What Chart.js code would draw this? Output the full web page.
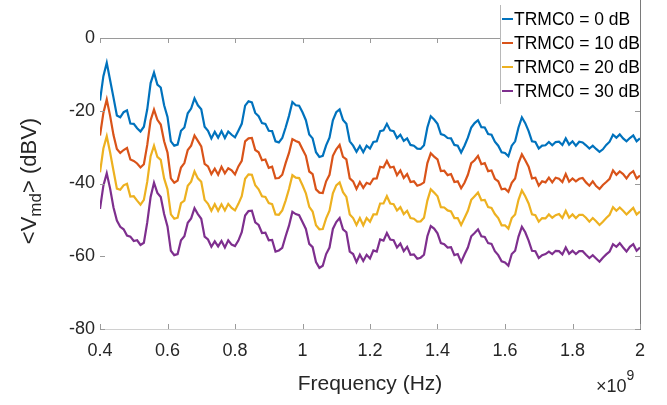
<!DOCTYPE html>
<html>
<head>
<meta charset="utf-8">
<script src="https://cdn.jsdelivr.net/npm/chart.js@4/dist/chart.umd.min.js"></script>
<style>
  html, body { margin: 0; padding: 0; background: #ffffff; }
  #wrap { width: 667px; height: 405px; position: relative; }
</style>
</head>
<body>
<div id="wrap"><canvas id="c" width="667" height="405"></canvas></div>
<script>
// Frequency (x 10^9 Hz)
const freq = [
0.40,0.41,0.42,0.43,0.44,0.45,0.46,0.47,0.48,0.49,
0.50,0.51,0.52,0.53,0.54,0.55,0.56,0.57,0.58,0.59,
0.60,0.61,0.62,0.63,0.64,0.65,0.66,0.67,0.68,0.69,
0.70,0.71,0.72,0.73,0.74,0.75,0.76,0.77,0.78,0.79,
0.80,0.81,0.82,0.83,0.84,0.85,0.86,0.87,0.88,0.89,
0.90,0.91,0.92,0.93,0.94,0.95,0.96,0.97,0.98,0.99,
1.00,1.01,1.02,1.03,1.04,1.05,1.06,1.07,1.08,1.09,
1.10,1.11,1.12,1.13,1.14,1.15,1.16,1.17,1.18,1.19,
1.20,1.21,1.22,1.23,1.24,1.25,1.26,1.27,1.28,1.29,
1.30,1.31,1.32,1.33,1.34,1.35,1.36,1.37,1.38,1.39,
1.40,1.41,1.42,1.43,1.44,1.45,1.46,1.47,1.48,1.49,
1.50,1.51,1.52,1.53,1.54,1.55,1.56,1.57,1.58,1.59,
1.60,1.61,1.62,1.63,1.64,1.65,1.66,1.67,1.68,1.69,
1.70,1.71,1.72,1.73,1.74,1.75,1.76,1.77,1.78,1.79,
1.80,1.81,1.82,1.83,1.84,1.85,1.86,1.87,1.88,1.89,
1.90,1.91,1.92,1.93,1.94,1.95,1.96,1.97,1.98,1.99,
2.00];

const seriesNames = ['TRMC0 = 0 dB', 'TRMC0 = 10 dB', 'TRMC0 = 20 dB', 'TRMC0 = 30 dB'];

const trmc0_0dB = [
-17.2,-10.5,-6.8,-11.6,-16.4,-21.3,-21.8,-20.4,-19.9,-23.5,
-23.6,-24.8,-25.7,-24.4,-19.6,-12.4,-9.5,-12.8,-13.6,-18.5,
-21.7,-28.4,-29.6,-29.3,-25.5,-24.6,-20.7,-19.4,-16.6,-18.5,
-19.6,-24.4,-25.5,-27.6,-25.8,-27.4,-25.6,-27.5,-25.7,-26.6,
-27.3,-25.5,-23.6,-18.6,-17.4,-17.7,-20.6,-21.5,-23.4,-23.6,
-25.5,-25.6,-28.4,-28.7,-27.5,-24.6,-21.4,-17.6,-18.5,-18.6,
-20.4,-22.6,-26.5,-27.6,-31.4,-32.7,-32.4,-29.5,-27.4,-22.6,
-20.4,-19.6,-22.5,-23.6,-28.4,-29.6,-31.3,-29.7,-31.4,-29.6,
-30.4,-28.6,-28.4,-25.6,-25.4,-23.6,-25.4,-25.6,-27.5,-26.6,
-28.3,-27.6,-29.4,-29.6,-30.4,-30.5,-29.5,-24.6,-21.5,-22.4,
-23.6,-26.4,-26.7,-27.5,-27.6,-29.4,-29.6,-31.5,-29.6,-27.4,
-24.6,-23.4,-22.6,-24.5,-24.6,-26.4,-26.6,-28.5,-29.6,-31.4,
-31.6,-32.5,-29.6,-28.4,-24.6,-21.8,-23.4,-25.6,-28.4,-28.6,
-30.4,-29.6,-29.5,-28.6,-29.5,-28.6,-28.5,-29.4,-27.6,-29.3,
-28.4,-29.6,-28.5,-28.7,-29.5,-30.4,-29.6,-30.5,-31.3,-30.6,
-29.4,-28.5,-26.6,-27.4,-26.5,-27.6,-28.4,-27.5,-26.8,-28.4,
-27.6];

const trmc0_10dB = [
-26.8,-20.6,-16.9,-21.4,-26.7,-30.5,-31.6,-30.8,-30.2,-33.4,
-33.8,-34.5,-35.6,-34.7,-29.4,-22.6,-19.7,-22.5,-23.8,-28.4,
-31.5,-38.6,-39.8,-39.2,-35.6,-34.4,-30.8,-29.6,-26.8,-28.3,
-29.8,-34.6,-35.3,-37.4,-35.9,-37.6,-35.4,-37.2,-35.8,-36.4,
-37.5,-35.3,-33.8,-28.4,-27.6,-27.5,-30.8,-31.4,-33.6,-33.4,
-35.7,-35.4,-38.6,-38.5,-37.6,-34.4,-31.6,-27.8,-28.3,-28.7,
-30.6,-32.4,-36.7,-37.4,-41.6,-42.5,-42.6,-39.4,-37.6,-32.4,
-30.6,-29.4,-32.7,-33.4,-38.6,-39.4,-41.5,-39.6,-41.2,-39.8,
-40.2,-38.7,-38.6,-35.4,-35.6,-33.8,-35.6,-35.4,-37.7,-36.4,
-38.5,-37.4,-39.6,-39.4,-40.6,-40.3,-39.7,-34.4,-31.7,-32.6,
-33.4,-36.6,-36.5,-37.7,-37.4,-39.6,-39.4,-41.3,-39.8,-37.6,
-34.4,-33.6,-32.4,-34.7,-34.4,-36.6,-36.4,-38.7,-39.4,-41.6,
-41.4,-42.3,-39.8,-38.6,-34.4,-32.0,-33.6,-35.4,-38.6,-38.4,
-40.6,-39.4,-39.7,-38.4,-39.7,-38.4,-38.7,-39.6,-37.4,-39.5,
-38.6,-39.4,-38.7,-38.5,-39.7,-40.6,-39.4,-40.7,-41.5,-40.4,
-39.6,-38.7,-36.4,-37.6,-36.7,-37.4,-38.6,-37.3,-36.6,-38.6,
-37.8];

const trmc0_20dB = [
-36.9,-30.4,-27.0,-31.5,-36.5,-41.4,-41.7,-40.5,-40.1,-43.6,
-43.5,-44.7,-45.8,-44.5,-39.5,-32.5,-29.6,-32.7,-33.5,-38.6,
-41.6,-48.5,-49.7,-49.4,-45.4,-44.7,-40.6,-39.5,-36.7,-38.6,
-39.5,-44.5,-45.6,-47.5,-45.7,-47.5,-45.7,-47.4,-45.6,-46.7,
-47.4,-45.6,-43.5,-38.7,-37.5,-37.6,-40.5,-41.6,-43.5,-43.7,
-45.4,-45.7,-48.5,-48.6,-47.4,-44.7,-41.5,-37.7,-38.4,-38.5,
-40.5,-42.7,-46.4,-47.7,-51.5,-52.6,-52.5,-49.6,-47.5,-42.7,
-40.5,-39.7,-42.4,-43.7,-48.5,-49.5,-51.4,-49.5,-51.5,-49.5,
-50.5,-48.5,-48.5,-45.5,-45.5,-43.5,-45.5,-45.7,-47.4,-46.5,
-48.4,-47.5,-49.5,-49.7,-50.5,-50.4,-49.4,-44.7,-41.6,-42.5,
-43.5,-46.5,-46.6,-47.4,-47.7,-49.5,-49.5,-51.4,-49.5,-47.5,
-44.5,-43.5,-42.5,-44.6,-44.5,-46.5,-46.7,-48.4,-49.5,-51.5,
-51.5,-52.4,-49.5,-48.5,-44.5,-41.9,-43.5,-45.5,-48.5,-48.7,
-50.5,-49.5,-49.6,-48.5,-49.4,-48.7,-48.4,-49.5,-47.5,-49.4,
-48.5,-49.5,-48.6,-48.6,-49.4,-50.5,-49.5,-50.4,-51.4,-50.5,
-49.5,-48.6,-46.5,-47.5,-46.6,-47.5,-48.5,-47.6,-46.7,-48.5,
-47.7];

const trmc0_30dB = [
-47.0,-40.6,-37.2,-41.4,-46.6,-50.2,-51.9,-52.6,-54.3,-54.6,
-55.8,-55.6,-56.9,-56.3,-50.7,-43.7,-39.8,-42.6,-43.7,-48.4,
-51.8,-58.5,-59.7,-59.4,-55.6,-54.5,-50.8,-49.6,-46.8,-48.4,
-49.7,-54.6,-55.4,-57.4,-55.9,-57.3,-55.8,-57.6,-55.6,-56.8,
-57.2,-55.7,-53.4,-48.8,-47.6,-47.5,-50.7,-51.4,-53.6,-53.5,
-55.6,-55.5,-58.7,-58.4,-57.7,-54.5,-51.6,-47.8,-48.4,-48.7,
-50.6,-52.5,-56.6,-57.5,-61.6,-63.2,-62.6,-59.4,-57.6,-52.5,
-50.6,-49.5,-52.6,-53.4,-58.7,-59.4,-61.6,-59.6,-61.3,-59.6,
-60.6,-58.4,-58.7,-55.4,-55.7,-53.6,-55.4,-55.6,-57.6,-56.5,
-58.6,-57.4,-59.6,-59.5,-60.7,-60.4,-59.6,-54.5,-51.7,-52.4,
-53.7,-56.4,-56.7,-57.6,-57.5,-59.7,-59.4,-61.6,-59.5,-57.6,
-54.5,-53.6,-52.6,-54.5,-54.7,-56.4,-56.6,-58.6,-59.7,-61.4,
-61.7,-62.6,-59.4,-58.5,-54.6,-51.9,-53.4,-55.7,-58.5,-58.6,
-60.5,-59.7,-59.4,-58.7,-59.4,-58.5,-58.6,-59.5,-57.6,-59.3,
-58.5,-59.4,-58.6,-58.6,-59.6,-60.5,-59.7,-60.6,-61.5,-60.4,
-59.5,-58.7,-56.7,-57.4,-56.4,-57.6,-58.7,-57.4,-56.7,-58.5,
-57.6];

const xTicks = [0.4, 0.6, 0.8, 1, 1.2, 1.4, 1.6, 1.8, 2];
const yTicks = [-80, -60, -40, -20, 0];
const colors = ['#0072BD', '#D95319', '#EDB120', '#7E2F8E'];

const allSeries = [trmc0_0dB, trmc0_10dB, trmc0_20dB, trmc0_30dB];
const FONT = "'Liberation Sans', Arial, Helvetica, sans-serif";

const datasets = allSeries.map((vals, i) => ({
  label: seriesNames[i],
  data: vals.map((v, k) => ({ x: freq[k], y: v })),
  borderColor: colors[i],
  borderWidth: 2.2,
  pointRadius: 0,
  tension: 0,
  fill: false
}));

const decorPlugin = {
  id: 'decor',
  afterDatasetsDraw(chart) {
    const ctx = chart.ctx;
    const a = chart.chartArea;
    const xs = chart.scales.x, ys = chart.scales.y;
    ctx.save();
    // box lines
    ctx.lineWidth = 1;
    ctx.strokeStyle = '#9a9a9a';
    ctx.beginPath(); ctx.moveTo(a.left, a.top + 0.5); ctx.lineTo(a.right, a.top + 0.5); ctx.stroke();
    ctx.strokeStyle = '#d0d0d0';
    ctx.beginPath(); ctx.moveTo(a.left, a.bottom + 0.5); ctx.lineTo(a.right, a.bottom + 0.5); ctx.stroke();
    ctx.strokeStyle = '#7a7a7a';
    ctx.beginPath(); ctx.moveTo(a.right + 0.5, 0); ctx.lineTo(a.right + 0.5, a.bottom + 1); ctx.stroke();
    // inward ticks
    ctx.strokeStyle = '#9a9a9a';
    xTicks.forEach(t => {
      const px = Math.round(xs.getPixelForValue(t)) + 0.5;
      ctx.beginPath(); ctx.moveTo(px, a.bottom); ctx.lineTo(px, a.bottom - 5); ctx.stroke();
      ctx.beginPath(); ctx.moveTo(px, a.top); ctx.lineTo(px, a.top + 5); ctx.stroke();
    });
    yTicks.forEach(t => {
      const py = Math.round(ys.getPixelForValue(t)) + 0.5;
      ctx.beginPath(); ctx.moveTo(a.left, py); ctx.lineTo(a.left + 5, py); ctx.stroke();
      ctx.beginPath(); ctx.moveTo(a.right, py); ctx.lineTo(a.right - 5, py); ctx.stroke();
    });

    // legend
    const lx = 500, ly = 5, lw = 140, lh = 99;
    ctx.fillStyle = '#ffffff';
    ctx.fillRect(lx, ly, lw, lh);
    ctx.strokeStyle = '#b8b8b8';
    ctx.beginPath(); ctx.moveTo(lx + 0.5, ly); ctx.lineTo(lx + 0.5, ly + lh); ctx.stroke();
    ctx.strokeStyle = '#7a7a7a';
    ctx.beginPath(); ctx.moveTo(a.right + 0.5, 0); ctx.lineTo(a.right + 0.5, ly + lh); ctx.stroke();
    ctx.font = '17.5px ' + FONT;
    ctx.textBaseline = 'middle';
    ctx.textAlign = 'left';
    chart.data.datasets.forEach((ds, i) => {
      const cy = 19 + i * 24;
      ctx.strokeStyle = ds.borderColor;
      ctx.lineWidth = 2;
      ctx.beginPath(); ctx.moveTo(lx + 2, cy); ctx.lineTo(lx + 13, cy); ctx.stroke();
      ctx.fillStyle = '#000000';
      ctx.fillText(ds.label, lx + 14, cy + 1);
    });

    // x title
    ctx.fillStyle = '#262626';
    ctx.textAlign = 'center';
    ctx.textBaseline = 'alphabetic';
    ctx.font = '21px ' + FONT;
    ctx.fillText('Frequency (Hz)', (a.left + a.right) / 2, 390);

    // exponent
    ctx.textAlign = 'left';
    ctx.font = '18px ' + FONT;
    ctx.fillText('\u00d710', 596, 392);
    const w10 = ctx.measureText('\u00d710').width;
    ctx.font = '14px ' + FONT;
    ctx.fillText('9', 596 + w10, 380);

    // y title with subscript
    ctx.save();
    ctx.translate(36, 181);
    ctx.rotate(-Math.PI / 2);
    const p1 = '<V', p2 = 'md', p3 = '> (dBV)';
    ctx.font = '22px ' + FONT;
    const w1 = ctx.measureText(p1).width, w3 = ctx.measureText(p3).width;
    ctx.font = '17px ' + FONT;
    const w2 = ctx.measureText(p2).width;
    let x0 = -(w1 + w2 + w3) / 2;
    ctx.textAlign = 'left';
    ctx.font = '22px ' + FONT;
    ctx.fillText(p1, x0, 0);
    ctx.font = '17px ' + FONT;
    ctx.fillText(p2, x0 + w1, 5);
    ctx.font = '22px ' + FONT;
    ctx.fillText(p3, x0 + w1 + w2, 0);
    ctx.restore();

    ctx.restore();
  }
};

new Chart(document.getElementById('c'), {
  type: 'line',
  data: { datasets },
  options: {
    responsive: false,
    animation: false,
    devicePixelRatio: 1,
    layout: { padding: { top: 38, right: 27, left: 0, bottom: 0 } },
    plugins: { legend: { display: false }, tooltip: { enabled: false }, title: { display: false } },
    scales: {
      x: {
        type: 'linear',
        min: 0.4, max: 2.0,
        afterFit: s => { s.height = 76; },
        afterBuildTicks: s => { s.ticks = xTicks.map(v => ({ value: v })); },
        grid: { display: false, drawTicks: false },
        border: { display: false },
        ticks: {
          padding: 11,
          autoSkip: false,
          maxRotation: 0,
          color: '#262626',
          font: { family: FONT, size: 18 },
          callback: v => String(Number(v.toFixed(1)))
        }
      },
      y: {
        type: 'linear',
        min: -80, max: 0,
        afterFit: s => { s.width = 100; },
        afterBuildTicks: s => { s.ticks = yTicks.map(v => ({ value: v })); },
        grid: { display: false, drawTicks: false },
        border: { display: false },
        ticks: {
          padding: 5,
          color: '#262626',
          font: { family: FONT, size: 18 },
          callback: v => String(v)
        }
      }
    }
  },
  plugins: [decorPlugin]
});
</script>
</body>
</html>
